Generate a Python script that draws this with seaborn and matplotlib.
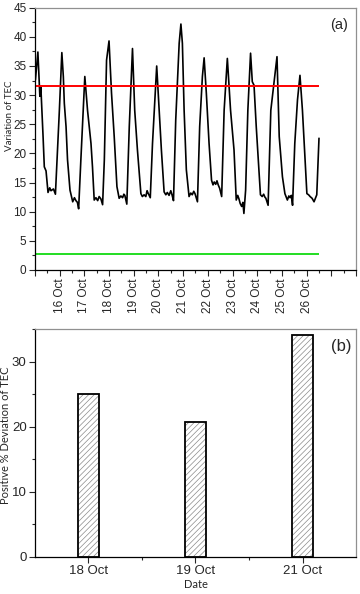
import numpy as np
import pandas as pd
import seaborn as sns
import matplotlib.pyplot as plt
from matplotlib.ticker import MultipleLocator, FixedLocator
from matplotlib.patches import Rectangle

# panel (a): TEC variation, time in fractional day of October
days = [15.02, 15.12, 15.20, 15.24, 15.33, 15.38, 15.45, 15.53, 15.60, 15.65, 15.75, 15.83, 15.99, 16.09,
        16.15, 16.19, 16.26, 16.32, 16.42, 16.53, 16.60, 16.66, 16.72, 16.77, 16.86, 17.02,
        17.13, 17.27, 17.33, 17.40, 17.47, 17.54, 17.60, 17.67, 17.74, 17.81, 17.90, 18.00,
        18.10, 18.21, 18.32, 18.41, 18.48, 18.55, 18.60, 18.64, 18.72, 18.82, 18.95,
        19.04, 19.15, 19.29, 19.35, 19.42, 19.49, 19.54, 19.58, 19.67, 19.76, 19.93,
        20.03, 20.12, 20.23, 20.30, 20.36, 20.43, 20.50, 20.55, 20.61, 20.70, 20.84, 20.91,
        20.97, 21.04, 21.13, 21.24, 21.31, 21.37, 21.43, 21.48, 21.58, 21.67, 21.78, 21.85,
        21.94, 22.05, 22.15, 22.21, 22.26, 22.32, 22.37, 22.42, 22.48, 22.56, 22.66, 22.79,
        22.92, 23.06, 23.15, 23.21, 23.26, 23.31, 23.37, 23.42, 23.46, 23.53, 23.62, 23.73,
        23.80, 23.87, 23.96, 24.07, 24.13, 24.20, 24.26, 24.31, 24.35, 24.44, 24.55, 24.66, 24.80,
        24.89, 25.02, 25.12, 25.22, 25.28, 25.33, 25.38, 25.43, 25.52, 25.63, 25.73,
        25.83, 25.90, 26.01, 26.08, 26.14, 26.22, 26.30, 26.41, 26.50]
tec = [32.6, 37.4, 29.8, 31.4, 22.9, 17.7, 17.0, 13.3, 14.1, 13.6, 13.9, 13.0, 27.4, 37.3,
       33.2, 28.6, 24.6, 18.9, 13.7, 11.7, 12.4, 11.9, 11.6, 10.5, 18.9, 33.2,
       27.4, 21.7, 17.7, 12.0, 12.4, 11.9, 12.6, 12.2, 11.2, 18.9, 36.0, 39.3,
       30.4, 22.9, 14.3, 12.3, 12.7, 12.4, 13.0, 12.8, 11.3, 24.6, 38.0,
       27.4, 20.6, 13.1, 12.6, 12.9, 12.6, 13.6, 13.2, 12.4, 21.7, 35.0,
       27.4, 20.6, 13.4, 12.9, 13.3, 12.8, 13.6, 12.9, 11.9, 25.7, 38.9, 42.2,
       38.9, 27.4, 17.2, 12.6, 13.2, 12.9, 13.5, 13.1, 11.7, 24.6, 33.2, 36.4,
       30.3, 21.7, 15.4, 14.6, 15.1, 14.7, 15.3, 14.6, 14.0, 12.6, 27.4, 36.3,
       27.4, 20.6, 12.0, 12.8, 12.2, 11.4, 10.9, 11.6, 9.7, 13.7, 27.4, 37.2,
       32.3, 31.7, 24.6, 17.2, 12.9, 12.6, 13.0, 12.5, 12.3, 11.1, 27.4, 31.4, 36.6,
       22.9, 16.0, 13.1, 12.0, 12.7, 12.4, 12.8, 11.1, 21.7, 29.2, 33.4,
       27.4, 21.7, 13.1, 12.9, 12.6, 12.3, 11.7, 12.9, 22.6]
upper_bound = 31.5
lower_bound = 2.7
t_start, t_end = 15.0, 26.5
tick_days = list(range(15, 29))
labelled_days = list(range(16, 27))

# panel (b): positive % deviation
dates = ["18 Oct", "19 Oct", "21 Oct"]
deviation = [25.0, 20.8, 34.1]

sns.set_theme(style='ticks')
plt.rcParams['font.family'] = ['Liberation Sans', 'DejaVu Sans']
plt.rcParams['hatch.linewidth'] = 0.5
label_font = ['Lato', 'DejaVu Sans']

fig = plt.figure(figsize=(3.6, 5.94), dpi=100)
ax1 = fig.add_axes([0.097, 0.5455, 0.892, 0.4415])
ax2 = fig.add_axes([0.097, 0.0623, 0.892, 0.3837])

# (a)
sns.lineplot(x=days, y=tec, ax=ax1, color='black', linewidth=1.2)
ax1.hlines(upper_bound, t_start, t_end, color='red', linewidth=1.4)
ax1.hlines(lower_bound, t_start, t_end, color='#22dd22', linewidth=1.4)
ax1.set_xlim(15, 28)
ax1.set_ylim(0, 45)
ax1.set_xticks(tick_days)
ax1.set_xticklabels([f"{d} Oct" if d in labelled_days else "" for d in tick_days], rotation=90)
ax1.xaxis.set_minor_locator(MultipleLocator(0.5))
ax1.yaxis.set_major_locator(MultipleLocator(5))
ax1.yaxis.set_minor_locator(MultipleLocator(2.5))
ax1.tick_params(which='both', direction='out', width=0.8, labelsize=8.5, pad=2)
ax1.tick_params(which='major', length=4)
ax1.tick_params(which='minor', length=2.5)
ax1.set_ylabel('Variation of TEC', fontsize=7, family=label_font)
ax1.yaxis.set_label_coords(-0.065, 0.587)
ax1.text(0.947, 0.935, '(a)', transform=ax1.transAxes, ha='center', va='center', fontsize=10.5)

# (b)
sns.barplot(x=dates, y=deviation, ax=ax2, color='white', width=0.2)
for p in list(ax2.patches):
    p.set_hatch('//////')
    p.set_edgecolor('#8a8a8a')
    p.set_linewidth(0)
    ax2.add_patch(Rectangle(p.get_xy(), p.get_width(), p.get_height(),
                            fill=False, edgecolor='black', linewidth=1.3, zorder=3))
ax2.set_xlim(-0.5, 2.5)
ax2.set_ylim(0, 35)
ax2.xaxis.set_minor_locator(FixedLocator([0.5, 1.5]))
ax2.yaxis.set_major_locator(MultipleLocator(10))
ax2.yaxis.set_minor_locator(MultipleLocator(5))
ax2.tick_params(which='both', direction='out', width=0.8, labelsize=9.5, pad=2)
ax2.tick_params(which='major', length=4)
ax2.tick_params(which='minor', length=2.5)
ax2.set_ylabel('Positive % Deviation of TEC', fontsize=8, family=label_font)
ax2.yaxis.set_label_coords(-0.074, 0.535)
ax2.set_xlabel('Date', fontsize=8, family=label_font, labelpad=1)
ax2.text(0.953, 0.923, '(b)', transform=ax2.transAxes, ha='center', va='center', fontsize=12)

for ax in (ax1, ax2):
    for side in ('left', 'bottom'):
        ax.spines[side].set_color('black')
        ax.spines[side].set_linewidth(0.9)
    for side in ('top', 'right'):
        ax.spines[side].set_color('#909090')
        ax.spines[side].set_linewidth(0.9)

fig.savefig('out.png', dpi=100)
